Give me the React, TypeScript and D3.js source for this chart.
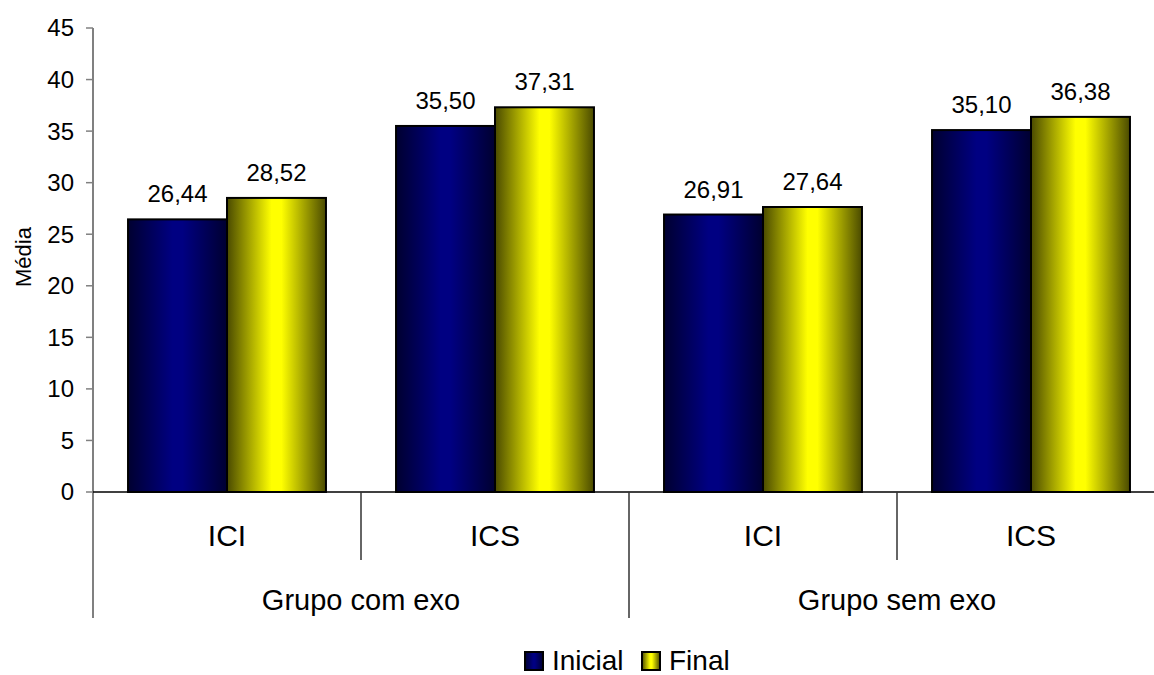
import React from "react";
import * as d3 from "d3";

const groups = ["Grupo com exo", "Grupo sem exo"];
const subcategories = ["ICI", "ICS"];
const series = ["Inicial", "Final"];
const inicialValues = [26.44, 35.5, 26.91, 35.1];
const finalValues = [28.52, 37.31, 27.64, 36.38];
const yTicks = [0, 5, 10, 15, 20, 25, 30, 35, 40, 45];

const FONT = "'Liberation Sans', Arial, sans-serif";

export default function App() {
  const W = 1154;
  const H = 675;
  const left = 93;
  const right = 1165;
  const top = 28;
  const bottom = 492;

  const y = d3.scaleLinear().domain([0, 45]).range([bottom, top]);
  const cats = d3.range(groups.length * subcategories.length).map(String);
  const x = d3.scaleBand().domain(cats).range([left, right]).padding(0);
  const inner = d3
    .scaleBand()
    .domain(series)
    .range([0, x.bandwidth()])
    .paddingInner(0)
    .paddingOuter(0.354);

  const valuesBySeries: Record<string, number[]> = {
    Inicial: inicialValues,
    Final: finalValues,
  };
  const gradId: Record<string, string> = { Inicial: "gBlue", Final: "gYellow" };
  const fmt = (v: number) => d3.format(".2f")(v).replace(".", ",");

  const smallSepEnd = 560;
  const bigSepEnd = 618;

  return (
    <svg
      width={W}
      height={H}
      style={{ position: "absolute", left: 0, top: 0, display: "block", background: "#fff" }}
      fontFamily={FONT}
    >
      <defs>
        <linearGradient id="gBlue" x1="0" x2="1" y1="0" y2="0">
          <stop offset="0%" stopColor="#000030" />
          <stop offset="45%" stopColor="#000082" />
          <stop offset="55%" stopColor="#000082" />
          <stop offset="100%" stopColor="#000030" />
        </linearGradient>
        <linearGradient id="gYellow" x1="0" x2="1" y1="0" y2="0">
          <stop offset="0%" stopColor="#4a4a00" />
          <stop offset="45%" stopColor="#ffff00" />
          <stop offset="55%" stopColor="#ffff00" />
          <stop offset="100%" stopColor="#4a4a00" />
        </linearGradient>
      </defs>

      {yTicks.map((t) => (
        <g key={t}>
          <line x1={left - 7} x2={left} y1={y(t)} y2={y(t)} stroke="#808080" strokeWidth={1.5} />
          <text x={74} y={y(t)} dy="0.35em" textAnchor="end" fontSize={24} fill="#000">
            {t}
          </text>
        </g>
      ))}
      <text transform={`translate(31,257) rotate(-90)`} textAnchor="middle" fontSize={22} fill="#000">
        Média
      </text>

      {cats.map((c, i) =>
        series.map((s) => {
          const v = valuesBySeries[s][i];
          const bx = (x(c) as number) + (inner(s) as number);
          const bw = inner.bandwidth();
          return (
            <g key={c + s}>
              <rect
                x={bx}
                y={y(v)}
                width={bw}
                height={y(0) - y(v)}
                fill={`url(#${gradId[s]})`}
                stroke="#000"
                strokeWidth={2}
              />
              <text x={bx + bw / 2} y={y(v) - 17} textAnchor="middle" fontSize={24} fill="#000">
                {fmt(v)}
              </text>
            </g>
          );
        })
      )}

      <line x1={left} x2={left} y1={top} y2={bigSepEnd} stroke="#808080" strokeWidth={2} />
      <line x1={left} x2={right} y1={bottom} y2={bottom} stroke="#000" strokeWidth={1.5} />

      {cats.map((c, i) => {
        if (i === 0) return null;
        const xx = x(c) as number;
        const big = i % subcategories.length === 0;
        return (
          <line
            key={"sep" + c}
            x1={xx}
            x2={xx}
            y1={bottom}
            y2={big ? bigSepEnd : smallSepEnd}
            stroke="#333"
            strokeWidth={1.5}
          />
        );
      })}
      <line x1={right} x2={right} y1={bottom} y2={bigSepEnd} stroke="#333" strokeWidth={1.5} />

      {cats.map((c, i) => (
        <text
          key={"lab" + c}
          x={(x(c) as number) + x.bandwidth() / 2}
          y={546}
          textAnchor="middle"
          fontSize={30}
          fill="#000"
        >
          {subcategories[i % subcategories.length]}
        </text>
      ))}

      {groups.map((g, gi) => {
        const x0 = x(cats[gi * subcategories.length]) as number;
        const x1 =
          (x(cats[gi * subcategories.length + subcategories.length - 1]) as number) + x.bandwidth();
        return (
          <text key={g} x={(x0 + x1) / 2} y={610} textAnchor="middle" fontSize={29} fill="#000">
            {g}
          </text>
        );
      })}

      {series.map((s, i) => {
        const lx = [525, 642][i];
        return (
          <g key={"leg" + s}>
            <rect x={lx} y={652} width={18} height={18} fill={`url(#${gradId[s]})`} stroke="#000" strokeWidth={2} />
            <text x={lx + 27} y={670} fontSize={28} fill="#000">
              {s}
            </text>
          </g>
        );
      })}
    </svg>
  );
}
